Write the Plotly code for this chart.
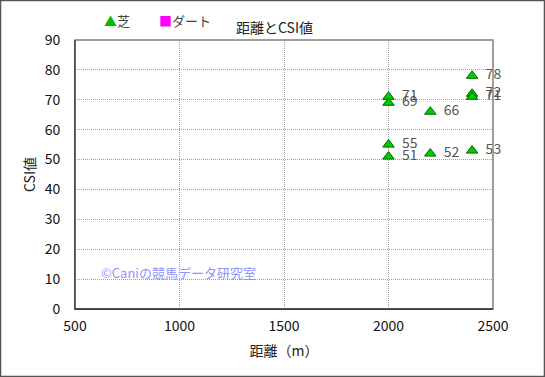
import plotly.graph_objects as go

turf_distance = [2000, 2000, 2000, 2000, 2200, 2200, 2400, 2400, 2400, 2400]
turf_csi = [71, 69, 55, 51, 66, 52, 78, 72, 71, 53]
dirt_distance = []
dirt_csi = []
x_ticks = [500, 1000, 1500, 2000, 2500]
y_ticks = [0, 10, 20, 30, 40, 50, 60, 70, 80, 90]

FONT = "Noto Sans CJK JP, Liberation Sans, sans-serif"

fig = go.Figure()
fig.add_trace(go.Scatter(
    x=turf_distance, y=turf_csi, mode="markers+text", name="芝",
    text=["  " + str(v) for v in turf_csi], textposition="middle right",
    textfont=dict(size=14, color="#555555", family=FONT),
    marker=dict(symbol="triangle-up", size=10, color="#00cc00",
                line=dict(color="#006600", width=1)),
    cliponaxis=False, showlegend=False,
))
fig.add_trace(go.Scatter(
    x=dirt_distance, y=dirt_csi, mode="markers", name="ダート",
    marker=dict(symbol="square", size=9, color="#ff00ff"), showlegend=False,
))

fig.update_layout(
    width=545, height=377,
    margin=dict(l=75, r=52, t=40, b=68, autoexpand=False),
    paper_bgcolor="white", plot_bgcolor="white",
    font=dict(family=FONT, size=13, color="#222222"),
    showlegend=False,
    xaxis=dict(range=[500, 2500], tickvals=x_ticks, ticktext=[str(v) for v in x_ticks],
               showgrid=True, gridcolor="#a0a0a0", griddash="1px,1px", gridwidth=1,
               showline=True, linecolor="#333333", linewidth=1, mirror=False,
               ticks="", zeroline=False, automargin=False, ticklabelstandoff=4,
               tickfont=dict(size=14, color="#111111"),
               title=dict(text="距離（m）", font=dict(size=14, color="#222222"), standoff=12)),
    yaxis=dict(range=[0, 90], tickvals=y_ticks,
               showgrid=True, gridcolor="#a0a0a0", griddash="1px,1px", gridwidth=1,
               showline=True, linecolor="#333333", linewidth=1,
               ticks="", zeroline=False, automargin=False, ticklabelstandoff=11,
               tickfont=dict(size=14, color="#111111"),
               title=dict(text="CSI値", font=dict(size=14, color="#222222"), standoff=5)),
)

# plot area frame (top/right in gray)
fig.add_shape(type="rect", xref="paper", yref="paper", x0=0, y0=0, x1=1, y1=1,
              line=dict(color="#808080", width=1.5), layer="above")
fig.add_shape(type="line", xref="paper", yref="paper", x0=0, y0=0, x1=0, y1=1,
              line=dict(color="#333333", width=1), layer="above")
fig.add_shape(type="line", xref="paper", yref="paper", x0=0, y0=0, x1=1, y1=0,
              line=dict(color="#333333", width=1.5), layer="above")
# outer border
fig.add_shape(type="rect", xref="paper", yref="paper",
              x0=-0.1782, y0=-0.2509, x1=1.1232, y1=1.1468,
              line=dict(color="#555555", width=1.5))

# title
fig.add_annotation(text="距離とCSI値", xref="paper", yref="paper",
                   x=0.478, y=1.048, xanchor="center", yanchor="middle", showarrow=False,
                   font=dict(size=14, color="#222222", family=FONT))
# legend
fig.add_annotation(text="<span style='color:#00bb00'>▲</span>芝", xref="paper", yref="paper",
                   x=0.0646, y=1.074, xanchor="left", yanchor="middle", showarrow=False,
                   font=dict(size=13, color="#444444", family=FONT))
fig.add_annotation(text="<span style='color:#ff00ff'>■</span>ダート", xref="paper", yref="paper",
                   x=0.196, y=1.074, xanchor="left", yanchor="middle", showarrow=False,
                   font=dict(size=13, color="#444444", family=FONT))

fig.add_annotation(text="©Caniの競馬データ研究室", xref="paper", yref="paper",
                   x=0.058, y=0.1375, xanchor="left", yanchor="middle", showarrow=False,
                   font=dict(size=13, color="#9090ff", family=FONT))

fig.write_html("out.html", config={"displayModeBar": False},
               post_script="document.body.style.margin='0';document.body.style.overflow='hidden';")
